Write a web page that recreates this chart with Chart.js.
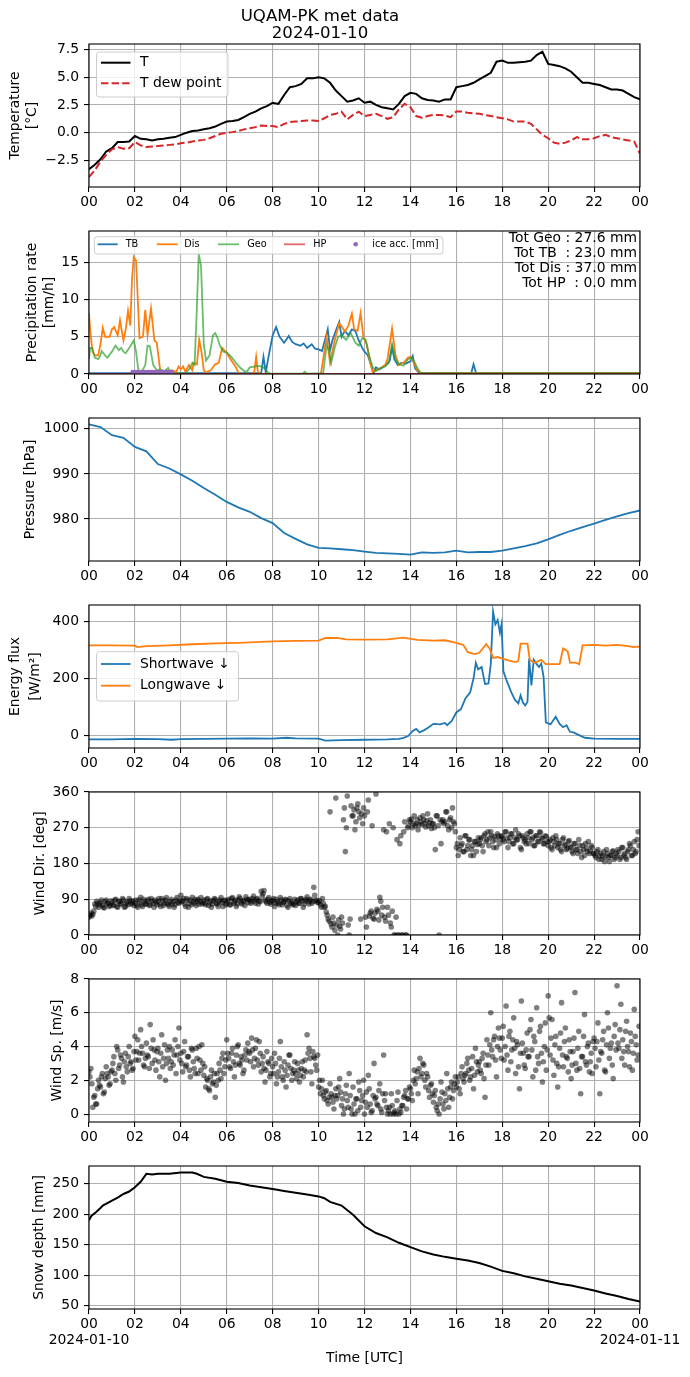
<!DOCTYPE html>
<html>
<head>
<meta charset="utf-8">
<title>UQAM-PK met data</title>
<script src="https://cdn.jsdelivr.net/npm/chart.js@4.4.1/dist/chart.umd.min.js"></script>
<style>
  html, body { margin: 0; padding: 0; background: #fff; }
  #fig { position: relative; width: 690px; height: 1377px; overflow: hidden; }
  #fig canvas { position: absolute; left: 0; }
</style>
</head>
<body>
<div id="fig">
  <canvas id="c-temp"  width="690" height="217" style="top:0px"></canvas>
  <canvas id="c-prec"  width="690" height="187" style="top:217px"></canvas>
  <canvas id="c-pres"  width="690" height="187" style="top:404px"></canvas>
  <canvas id="c-rad"   width="690" height="187" style="top:591px"></canvas>
  <canvas id="c-wdir"  width="690" height="187" style="top:778px"></canvas>
  <canvas id="c-wspd"  width="690" height="187" style="top:965px"></canvas>
  <canvas id="c-snow"  width="690" height="225" style="top:1152px"></canvas>
</div>
<script>
// ---- labels / ticks ----
const figTitle = ['UQAM-PK met data', '2024-01-10'];
const dayLabels = ['2024-01-10', '2024-01-11'];
const hourTicks = [0, 2, 4, 6, 8, 10, 12, 14, 16, 18, 20, 22, 24];
const tempTicks = [-2.5, 0, 2.5, 5, 7.5];
const precTicks = [0, 5, 10, 15];
const presTicks = [980, 990, 1000];
const radTicks = [0, 200, 400];
const wdirTicks = [0, 90, 180, 270, 360];
const wspdTicks = [0, 2, 4, 6, 8];
const snowTicks = [50, 100, 150, 200, 250];
const precTotals = ['Tot Geo : 27.6 mm', 'Tot TB  : 23.0 mm', 'Tot Dis : 37.0 mm', 'Tot HP  : 0.0 mm'];

// ---- temperature (15 min) ----
const hours15 = [
  0, 0.25, 0.5, 0.75, 1, 1.25, 1.5, 1.75, 2, 2.25, 2.5, 2.75, 3, 3.25, 3.5, 3.75,
  4, 4.25, 4.5, 4.75, 5, 5.25, 5.5, 5.75, 6, 6.25, 6.5, 6.75, 7, 7.25, 7.5, 7.75,
  8, 8.25, 8.5, 8.75, 9, 9.25, 9.5, 9.75, 10, 10.25, 10.5, 10.75, 11, 11.25, 11.5, 11.75,
  12, 12.25, 12.5, 12.75, 13, 13.25, 13.5, 13.75, 14, 14.25, 14.5, 14.75, 15, 15.25, 15.5, 15.75,
  16, 16.25, 16.5, 16.75, 17, 17.25, 17.5, 17.75, 18, 18.25, 18.5, 18.75, 19, 19.25, 19.5, 19.75,
  20, 20.25, 20.5, 20.75, 21, 21.25, 21.5, 21.75, 22, 22.25, 22.5, 22.75, 23, 23.25, 23.5, 23.75, 24];
const tempValues = [
  -3.3, -2.9, -2.4, -1.7, -1.4, -0.85, -0.85, -0.8, -0.3, -0.55, -0.6, -0.7, -0.6, -0.55, -0.45, -0.4,
  -0.2, 0.0, 0.15, 0.2, 0.3, 0.4, 0.55, 0.8, 1.0, 1.05, 1.15, 1.4, 1.7, 1.9, 2.2, 2.4,
  2.7, 2.6, 3.4, 4.1, 4.2, 4.4, 4.9, 4.9, 5.0, 4.9, 4.5, 3.8, 3.3, 2.8, 2.9, 3.1,
  2.7, 2.8, 2.5, 2.3, 2.2, 2.1, 2.6, 3.3, 3.6, 3.5, 3.1, 2.95, 2.9, 2.8, 3.0, 3.0,
  4.1, 4.2, 4.3, 4.5, 4.8, 5.1, 5.4, 6.4, 6.5, 6.3, 6.3, 6.35, 6.4, 6.5, 7.0, 7.3,
  6.2, 6.1, 6.0, 5.8, 5.5, 5.0, 4.5, 4.5, 4.4, 4.3, 4.1, 3.9, 3.9, 3.8, 3.5, 3.2, 3.0];
const dewValues = [
  -4.0, -3.4, -2.6, -2.0, -1.5, -1.3, -1.45, -1.4, -0.85, -1.15, -1.3, -1.25, -1.2, -1.15, -1.1, -1.05,
  -0.95, -0.9, -0.8, -0.7, -0.65, -0.5, -0.3, -0.1, 0.0, 0.05, 0.15, 0.3, 0.4, 0.5, 0.65, 0.6,
  0.6, 0.5, 0.8, 0.95, 1.0, 1.05, 1.1, 1.1, 1.05, 1.3, 1.6, 1.7, 1.9, 1.2, 1.6, 1.9,
  1.5, 1.6, 1.7, 1.5, 1.25, 1.4, 2.1, 2.6, 2.3, 1.5, 1.35, 1.5, 1.6, 1.6, 1.55, 1.4,
  1.9, 1.9, 1.8, 1.75, 1.7, 1.6, 1.5, 1.4, 1.3, 1.2, 1.0, 1.0, 1.0, 0.8, 0.3, -0.2,
  -0.5, -0.9, -1.0, -0.9, -0.7, -0.4, -0.6, -0.6, -0.5, -0.3, -0.2, -0.4, -0.5, -0.6, -0.7, -0.8, -1.9];

// ---- precipitation rate [mm/h] ----
const tbHours = [0, 7.5, 7.6, 7.7, 7.8, 8.0, 8.15, 8.3, 8.5, 8.7, 8.85, 9.0, 9.2, 9.35, 9.5, 9.7, 9.85,
  10.0, 10.15, 10.3, 10.4, 10.5, 10.6, 10.75, 10.9, 11.0, 11.15, 11.3, 11.45, 11.6, 11.75, 11.9,
  12.0, 12.15, 12.3, 12.4, 12.5, 12.65, 12.8, 13.0, 13.1, 13.2, 13.3, 13.45, 13.6, 13.8,
  14.0, 14.1, 14.2, 14.35, 14.45, 16.65, 16.75, 16.85, 16.95, 24];
const tbValues = [0.1, 0.1, 2.3, 0.2, 2.0, 5.2, 6.3, 5.0, 4.2, 5.1, 4.3, 4.0, 3.8, 4.1, 3.5, 4.0, 3.4,
  3.3, 3.1, 4.8, 6.0, 3.2, 4.5, 5.8, 7.0, 5.0, 5.8, 5.2, 6.0, 5.8, 4.5, 3.5,
  3.0, 2.5, 1.0, 0.1, 0.9, 0.6, 0.9, 1.4, 1.8, 3.6, 2.0, 1.2, 1.5, 1.4,
  1.7, 2.4, 0.8, 0.2, 0.1, 0.1, 1.3, 0.2, 0.1, 0.1];
const disHours = [0, 0.05, 0.15, 0.25, 0.4, 0.5, 0.6, 0.7, 0.9, 1.0, 1.1, 1.25, 1.35, 1.5, 1.6, 1.7, 1.8, 1.87, 1.95, 2.05,
  2.2, 2.35, 2.45, 2.55, 2.7, 2.85, 2.95, 3.1, 3.2, 3.4, 3.6, 3.8, 3.9, 4.0, 4.1, 4.2, 4.35, 4.5, 4.55, 4.7,
  4.8, 4.9, 5.0, 5.1, 5.3, 5.5, 5.65, 5.8, 6.0, 6.2, 6.4, 6.5, 6.6, 7.1, 7.2, 7.28, 7.36, 7.5, 10.1, 10.2,
  10.35, 10.5, 10.7, 10.9, 11.0, 11.15, 11.3, 11.45, 11.55, 11.7, 11.83, 11.95, 12.1, 12.25, 12.35, 12.5, 12.7, 12.9, 13.0, 13.1,
  13.2, 13.35, 13.5, 13.7, 13.9, 14.0, 14.15, 14.3, 14.45, 24];
const disValues = [8.2, 6.0, 3.0, 2.5, 2.5, 4.0, 6.2, 5.0, 5.0, 6.0, 6.3, 5.2, 7.2, 4.5, 6.0, 8.5, 6.5, 12.5, 15.7, 15.2,
  4.8, 5.0, 8.6, 5.2, 8.8, 4.5, 4.2, 0.5, 0.3, 0.2, 0.5, 0.3, 1.0, 0.6, 1.0, 0.3, 1.2, 0.5, 1.5, 1.3,
  4.6, 3.0, 0.5, 0.2, 0.5, 1.3, 1.5, 3.5, 2.8, 1.8, 0.9, 0.2, 0.0, 0.0, 0.3, 2.3, 0.2, 0.0, 0.0, 2.0,
  5.0, 1.5, 4.5, 6.8, 6.4, 5.7, 6.5, 8.1, 6.0, 5.8, 8.2, 5.0, 4.0, 1.5, 0.3, 0.5, 0.8, 1.2, 2.0, 4.0,
  6.1, 2.5, 1.2, 1.5, 2.2, 2.3, 1.5, 0.5, 0.1, 0.1];
const geoHours = [0, 0.05, 0.15, 0.25, 0.4, 0.5, 0.55, 0.7, 0.8, 1.0, 1.15, 1.3, 1.4, 1.5, 1.6, 1.75, 1.95, 2.05, 2.15, 2.3,
  2.45, 2.55, 2.65, 2.8, 2.95, 3.1, 3.3, 3.45, 3.55, 3.7, 4.2, 4.4, 4.5, 4.6, 4.7, 4.78, 4.88, 5.0, 5.1, 5.25,
  5.4, 5.5, 5.6, 5.7, 5.85, 6.0, 6.2, 6.4, 6.6, 6.8, 6.9, 7.0, 7.2, 7.4, 7.6, 7.8, 7.9, 9.3, 9.4, 9.5,
  10.2, 10.35, 10.45, 10.55, 10.7, 10.85, 11.0, 11.2, 11.4, 11.6, 11.75, 11.9, 12.05, 12.2, 12.35, 12.5, 12.7, 12.9, 13.05, 13.2,
  13.35, 13.5, 13.7, 13.9, 14.05, 14.2, 14.3, 14.45, 24];
const geoValues = [2.0, 3.5, 3.5, 2.2, 2.0, 2.5, 3.1, 2.5, 2.2, 3.0, 3.8, 3.2, 3.5, 3.0, 2.8, 3.5, 4.5, 3.0, 0.5, 0.3,
  1.2, 3.8, 3.7, 1.2, 0.5, 0.6, 0.4, 0.8, 0.2, 0.05, 0.1, 0.8, 1.5, 1.2, 9.0, 16.1, 14.5, 4.0, 1.8, 2.5,
  5.2, 5.5, 4.8, 3.8, 3.0, 2.9, 2.3, 1.5, 0.8, 0.3, 0.4, 0.9, 1.0, 1.1, 0.9, 0.2, 0.05, 0.05, 0.3, 0.05,
  0.1, 3.8, 3.2, 1.5, 3.5, 5.0, 5.2, 4.6, 5.5, 4.2, 3.8, 4.8, 4.6, 2.5, 1.0, 0.4, 0.8, 1.0, 1.5, 4.0,
  2.0, 1.3, 1.1, 2.0, 2.2, 1.5, 0.8, 0.1, 0.1];
const hpHours = [0, 24];
const hpValues = [0, 0];
const iceHours = [1.9, 2.0, 2.1, 2.2, 2.3, 2.4, 2.5, 2.6, 2.7, 2.8, 2.9, 3.0, 3.1, 3.2, 3.3, 3.4, 3.5, 3.6];
const iceValues = [0.25, 0.25, 0.25, 0.25, 0.25, 0.25, 0.25, 0.25, 0.25, 0.25, 0.25, 0.25, 0.25, 0.25, 0.25, 0.25, 0.25, 0.25];

// ---- pressure [hPa] (30 min) ----
const hours30 = [0, 0.5, 1, 1.5, 2, 2.5, 3, 3.5, 4, 4.5, 5, 5.5, 6, 6.5, 7, 7.5, 8, 8.5, 9, 9.5, 10, 10.5, 11, 11.5,
  12, 12.5, 13, 13.5, 14, 14.5, 15, 15.5, 16, 16.5, 17, 17.5, 18, 18.5, 19, 19.5, 20, 20.5, 21, 21.5, 22, 22.5, 23, 23.5, 24];
const presValues = [1001.0, 1000.4, 998.6, 998.0, 996.0, 995.0, 992.2, 991.2, 989.9, 988.5, 986.9, 985.4,
  983.8, 982.6, 981.6, 980.2, 979.1, 976.9, 975.6, 974.4, 973.6, 973.5, 973.3, 973.1,
  972.8, 972.5, 972.4, 972.3, 972.1, 972.6, 972.5, 972.6, 973.0, 972.6, 972.7, 972.7,
  973.0, 973.5, 974.0, 974.6, 975.5, 976.5, 977.4, 978.2, 979.0, 979.8, 980.6, 981.3, 981.9];

// ---- radiation [W/m2] ----
const swHours = [0, 1, 2, 3, 3.6, 4, 5, 6, 7, 8, 8.6, 9, 10, 10.3, 11, 12, 13, 13.5, 13.7, 13.9,
  14.1, 14.25, 14.4, 14.6, 14.8, 15, 15.3, 15.5, 15.6, 15.8, 16, 16.2, 16.4, 16.6, 16.75, 16.85, 16.95, 17.1, 17.25, 17.4,
  17.5, 17.6, 17.7, 17.8, 17.9, 17.97, 18.05, 18.2, 18.4, 18.55, 18.7, 18.8, 18.9, 19.0, 19.1, 19.17, 19.27, 19.37, 19.5, 19.6,
  19.7, 19.8, 19.9, 20.1, 20.2, 20.33, 20.5, 20.65, 20.8, 20.95, 21.1, 21.3, 21.6, 22, 23, 24];
const swValues = [-15, -15, -13, -14, -16, -14, -13, -12, -11, -12, -9, -11, -12, -19, -17, -16, -15, -13, -9, -3,
  15, 22, 10, 18, 28, 40, 38, 43, 35, 50, 80, 92, 130, 150, 200, 255, 232, 240, 180, 182,
  250, 435, 390, 405, 360, 390, 225, 190, 150, 125, 112, 140, 115, 105, 118, 270, 175, 265, 250, 240,
  252, 205, 45, 38, 50, 65, 40, 28, 35, 12, 10, 2, -9, -12, -13, -13];
const lwHours = [0, 1, 2, 2.1, 2.5, 3.5, 4.5, 5.5, 6.5, 7.5, 8, 9, 10, 10.3, 10.8, 11.2, 12, 13, 13.7, 14.3,
  15, 15.5, 16, 16.3, 16.5, 16.8, 17.0, 17.3, 17.45, 17.6, 17.8, 18.3, 18.6, 18.7, 18.8, 19.1, 19.2, 19.4, 19.7, 19.9,
  20.5, 20.65, 20.85, 20.95, 21.2, 21.35, 21.5, 22, 22.5, 23, 23.5, 23.7, 24];
const lwValues = [316, 316, 315, 310, 313, 316, 320, 323, 325, 328, 330, 332, 333, 342, 342, 337, 336, 337, 343, 335,
  333, 334, 325, 318, 292, 285, 290, 320, 305, 272, 275, 262, 257, 262, 322, 322, 265, 255, 265, 250,
  250, 305, 295, 255, 255, 250, 316, 318, 315, 318, 313, 310, 312];

// ---- wind (2.5 min samples, one row per hour) ----
const windMinutes = [
  0, 2.5, 5, 7.5, 10, 12.5, 15, 17.5, 20, 22.5, 25, 27.5, 30, 32.5, 35, 37.5, 40, 42.5, 45, 47.5, 50, 52.5, 55, 57.5,
  60, 62.5, 65, 67.5, 70, 72.5, 75, 77.5, 80, 82.5, 85, 87.5, 90, 92.5, 95, 97.5, 100, 102.5, 105, 107.5, 110, 112.5, 115, 117.5,
  120, 122.5, 125, 127.5, 130, 132.5, 135, 137.5, 140, 142.5, 145, 147.5, 150, 152.5, 155, 157.5, 160, 162.5, 165, 167.5, 170, 172.5, 175, 177.5,
  180, 182.5, 185, 187.5, 190, 192.5, 195, 197.5, 200, 202.5, 205, 207.5, 210, 212.5, 215, 217.5, 220, 222.5, 225, 227.5, 230, 232.5, 235, 237.5,
  240, 242.5, 245, 247.5, 250, 252.5, 255, 257.5, 260, 262.5, 265, 267.5, 270, 272.5, 275, 277.5, 280, 282.5, 285, 287.5, 290, 292.5, 295, 297.5,
  300, 302.5, 305, 307.5, 310, 312.5, 315, 317.5, 320, 322.5, 325, 327.5, 330, 332.5, 335, 337.5, 340, 342.5, 345, 347.5, 350, 352.5, 355, 357.5,
  360, 362.5, 365, 367.5, 370, 372.5, 375, 377.5, 380, 382.5, 385, 387.5, 390, 392.5, 395, 397.5, 400, 402.5, 405, 407.5, 410, 412.5, 415, 417.5,
  420, 422.5, 425, 427.5, 430, 432.5, 435, 437.5, 440, 442.5, 445, 447.5, 450, 452.5, 455, 457.5, 460, 462.5, 465, 467.5, 470, 472.5, 475, 477.5,
  480, 482.5, 485, 487.5, 490, 492.5, 495, 497.5, 500, 502.5, 505, 507.5, 510, 512.5, 515, 517.5, 520, 522.5, 525, 527.5, 530, 532.5, 535, 537.5,
  540, 542.5, 545, 547.5, 550, 552.5, 555, 557.5, 560, 562.5, 565, 567.5, 570, 572.5, 575, 577.5, 580, 582.5, 585, 587.5, 590, 592.5, 595, 597.5,
  600, 602.5, 605, 607.5, 610, 612.5, 615, 617.5, 620, 622.5, 625, 627.5, 630, 632.5, 635, 637.5, 640, 642.5, 645, 647.5, 650, 652.5, 655, 657.5,
  660, 662.5, 665, 667.5, 670, 672.5, 675, 677.5, 680, 682.5, 685, 687.5, 690, 692.5, 695, 697.5, 700, 702.5, 705, 707.5, 710, 712.5, 715, 717.5,
  720, 722.5, 725, 727.5, 730, 732.5, 735, 737.5, 740, 742.5, 745, 747.5, 750, 752.5, 755, 757.5, 760, 762.5, 765, 767.5, 770, 772.5, 775, 777.5,
  780, 782.5, 785, 787.5, 790, 792.5, 795, 797.5, 800, 802.5, 805, 807.5, 810, 812.5, 815, 817.5, 820, 822.5, 825, 827.5, 830, 832.5, 835, 837.5,
  840, 842.5, 845, 847.5, 850, 852.5, 855, 857.5, 860, 862.5, 865, 867.5, 870, 872.5, 875, 877.5, 880, 882.5, 885, 887.5, 890, 892.5, 895, 897.5,
  900, 902.5, 905, 907.5, 910, 912.5, 915, 917.5, 920, 922.5, 925, 927.5, 930, 932.5, 935, 937.5, 940, 942.5, 945, 947.5, 950, 952.5, 955, 957.5,
  960, 962.5, 965, 967.5, 970, 972.5, 975, 977.5, 980, 982.5, 985, 987.5, 990, 992.5, 995, 997.5, 1000, 1002.5, 1005, 1007.5, 1010, 1012.5, 1015, 1017.5,
  1020, 1022.5, 1025, 1027.5, 1030, 1032.5, 1035, 1037.5, 1040, 1042.5, 1045, 1047.5, 1050, 1052.5, 1055, 1057.5, 1060, 1062.5, 1065, 1067.5, 1070, 1072.5, 1075, 1077.5,
  1080, 1082.5, 1085, 1087.5, 1090, 1092.5, 1095, 1097.5, 1100, 1102.5, 1105, 1107.5, 1110, 1112.5, 1115, 1117.5, 1120, 1122.5, 1125, 1127.5, 1130, 1132.5, 1135, 1137.5,
  1140, 1142.5, 1145, 1147.5, 1150, 1152.5, 1155, 1157.5, 1160, 1162.5, 1165, 1167.5, 1170, 1172.5, 1175, 1177.5, 1180, 1182.5, 1185, 1187.5, 1190, 1192.5, 1195, 1197.5,
  1200, 1202.5, 1205, 1207.5, 1210, 1212.5, 1215, 1217.5, 1220, 1222.5, 1225, 1227.5, 1230, 1232.5, 1235, 1237.5, 1240, 1242.5, 1245, 1247.5, 1250, 1252.5, 1255, 1257.5,
  1260, 1262.5, 1265, 1267.5, 1270, 1272.5, 1275, 1277.5, 1280, 1282.5, 1285, 1287.5, 1290, 1292.5, 1295, 1297.5, 1300, 1302.5, 1305, 1307.5, 1310, 1312.5, 1315, 1317.5,
  1320, 1322.5, 1325, 1327.5, 1330, 1332.5, 1335, 1337.5, 1340, 1342.5, 1345, 1347.5, 1350, 1352.5, 1355, 1357.5, 1360, 1362.5, 1365, 1367.5, 1370, 1372.5, 1375, 1377.5,
  1380, 1382.5, 1385, 1387.5, 1390, 1392.5, 1395, 1397.5, 1400, 1402.5, 1405, 1407.5, 1410, 1412.5, 1415, 1417.5, 1420, 1422.5, 1425, 1427.5, 1430, 1432.5, 1435, 1437.5];
const windDirValues = [
  45, 50, 55, 48, 52, 60, 78, 72, 85, 80, 70, 76, 82, 88, 75, 70, 68, 84, 88, 79, 80, 72, 74, 86,
  82, 74, 76, 88, 90, 72, 70, 84, 85, 78, 79, 92, 88, 70, 72, 80, 84, 76, 92, 86, 78, 82, 86, 74,
  80, 88, 74, 70, 88, 82, 95, 76, 72, 90, 84, 78, 78, 86, 90, 74, 76, 92, 86, 80, 70, 88, 82, 76,
  85, 92, 78, 72, 92, 86, 74, 80, 88, 94, 80, 76, 72, 84, 90, 78, 84, 70, 76, 88, 94, 82, 80, 86,
  100, 84, 86, 92, 78, 72, 92, 88, 70, 80, 88, 76, 95, 84, 80, 90, 74, 86, 90, 78, 84, 94, 78, 82,
  88, 80, 76, 90, 92, 74, 82, 86, 70, 78, 86, 92, 90, 80, 78, 72, 84, 88, 94, 82, 72, 86, 88, 76,
  80, 86, 90, 76, 76, 92, 94, 80, 84, 88, 72, 78, 88, 96, 92, 82, 78, 86, 86, 74, 96, 90, 82, 88,
  90, 80, 84, 92, 98, 86, 80, 90, 92, 78, 86, 84, 110, 98, 104, 112, 88, 84, 80, 90, 94, 82, 78, 86,
  86, 92, 72, 80, 90, 84, 80, 76, 94, 88, 76, 82, 84, 90, 88, 74, 70, 86, 92, 80, 82, 76, 78, 90,
  74, 84, 88, 80, 80, 92, 92, 86, 70, 78, 86, 90, 96, 84, 78, 88, 90, 80, 84, 120, 100, 86, 88, 82,
  82, 86, 76, 70, 92, 80, 70, 72, 58, 50, 40, 35, 310, 28, 20, 45, 30, 12, 345, 25, 0, 38, 22, 15,
  45, 30, 290, 320, 210, 270, 350, 25, 0, 40, 325, 300, 300, 315, 265, 285, 320, 330, 310, 295, 40, 305, 280, 320,
  300, 45, 20, 310, 340, 48, 55, 60, 275, 42, 40, 55, 355, 65, 60, 38, 95, 85, 50, 70, 265, 45, 35, 260,
  70, 50, 280, 30, 20, 60, 270, 0, 0, 45, 240, 0, 0, 230, 250, 0, 0, 260, 285, 0, 0, 270, 275, 290,
  285, 292, 270, 280, 300, 275, 280, 290, 265, 278, 295, 285, 278, 300, 290, 280, 272, 288, 305, 275, 282, 290, 268, 280,
  280, 270, 215, 300, 300, 275, 0, 290, 230, 285, 290, 280, 285, 310, 310, 275, 265, 290, 295, 270, 320, 285, 280, 260,
  220, 230, 200, 215, 245, 225, 230, 210, 210, 250, 250, 215, 225, 240, 240, 200, 215, 225, 200, 235, 235, 210, 228, 245,
  230, 240, 245, 225, 210, 250, 255, 235, 240, 260, 225, 245, 260, 250, 235, 220, 248, 240, 220, 255, 250, 230, 242, 248,
  250, 240, 235, 260, 260, 245, 220, 235, 245, 255, 255, 230, 230, 245, 265, 240, 240, 255, 250, 220, 215, 250, 245, 235,
  240, 230, 255, 245, 230, 260, 260, 240, 245, 225, 225, 250, 250, 235, 235, 260, 258, 245, 242, 230, 230, 250, 248, 235,
  225, 235, 240, 220, 215, 245, 235, 225, 250, 240, 220, 230, 230, 215, 210, 240, 245, 225, 228, 215, 218, 235, 238, 222,
  220, 210, 205, 230, 230, 215, 215, 205, 240, 225, 210, 195, 225, 215, 200, 230, 218, 210, 235, 205, 212, 225, 220, 205,
  205, 200, 195, 210, 215, 190, 200, 205, 190, 198, 210, 185, 198, 215, 205, 195, 185, 200, 200, 210, 212, 190, 195, 205,
  200, 215, 210, 190, 195, 220, 220, 200, 205, 195, 190, 210, 215, 230, 225, 200, 200, 215, 235, 205, 210, 240, 260, 225];
const windSpdValues = [
  2.5, 2.2, 2.7, 1.8, 0.4, 1.0, 1.1, 0.6, 0.6, 1.5, 2.0, 1.7, 1.6, 2.2, 2.4, 1.2, 1.3, 2.1, 2.8, 2.4, 2.2, 1.7, 1.8, 2.5,
  2.6, 3.0, 3.4, 2.4, 2.0, 4.0, 3.8, 2.7, 2.9, 3.5, 3.3, 2.2, 1.9, 3.1, 3.6, 2.8, 2.5, 3.4, 4.0, 3.0, 3.1, 2.6, 2.7, 3.7,
  4.6, 3.2, 3.7, 4.4, 3.2, 3.6, 5.0, 4.0, 3.6, 2.9, 2.8, 3.3, 4.2, 3.5, 3.4, 2.7, 5.3, 3.9, 3.0, 4.4, 3.8, 3.2, 2.6, 3.7,
  3.9, 3.1, 2.2, 3.6, 4.7, 2.8, 3.3, 4.1, 2.0, 3.0, 3.8, 3.3, 4.0, 2.7, 3.1, 3.8, 2.9, 3.5, 4.4, 2.4, 3.5, 4.0, 5.1, 3.2,
  3.6, 3.0, 2.5, 3.7, 4.3, 2.8, 2.9, 3.4, 3.4, 2.6, 2.2, 3.9, 3.8, 3.1, 2.7, 2.4, 3.9, 3.3, 2.4, 4.0, 3.2, 2.6, 4.1, 3.0,
  2.3, 2.8, 1.6, 2.1, 2.0, 1.5, 1.4, 2.2, 2.6, 1.8, 1.9, 2.4, 1.0, 1.7, 2.4, 2.0, 3.0, 2.6, 2.1, 3.3, 3.6, 2.4, 2.8, 3.2,
  4.4, 3.6, 3.3, 2.8, 2.7, 3.6, 3.9, 3.1, 2.2, 2.9, 3.5, 4.0, 4.1, 3.0, 2.9, 3.4, 3.2, 2.4, 2.6, 3.5, 3.8, 3.2, 4.2, 3.7,
  3.6, 3.1, 4.5, 3.8, 2.8, 3.3, 3.9, 4.4, 3.2, 2.9, 4.3, 3.6, 2.5, 3.0, 3.4, 2.7, 1.9, 2.6, 3.7, 3.1, 3.0, 2.2, 2.4, 3.3,
  2.8, 2.4, 3.6, 3.0, 1.8, 2.2, 2.5, 3.3, 4.3, 2.8, 2.2, 2.0, 3.1, 2.6, 1.6, 2.3, 2.9, 3.5, 3.5, 2.7, 2.0, 2.4, 2.6, 3.1,
  2.4, 2.1, 3.0, 2.6, 1.9, 2.3, 2.7, 3.1, 2.2, 2.6, 3.2, 2.5, 4.7, 3.6, 3.9, 3.3, 2.5, 1.8, 3.7, 3.4, 3.3, 2.9, 2.6, 3.5,
  1.6, 2.0, 1.2, 1.5, 2.0, 1.1, 0.9, 1.3, 1.4, 0.8, 0.6, 1.0, 1.8, 1.2, 1.0, 0.7, 0.3, 1.1, 1.5, 0.9, 1.1, 1.6, 2.1, 1.3,
  0.5, 0.9, 0.0, 0.3, 1.2, 1.7, 0.8, 0.4, 2.4, 1.1, 0.3, 0.0, 1.6, 0.6, 0.0, 0.9, 0.9, 0.2, 1.9, 1.4, 0.4, 0.8, 1.1, 2.0,
  0.0, 0.7, 1.3, 0.4, 2.3, 1.5, 0.6, 0.1, 0.2, 1.1, 3.0, 0.9, 1.0, 0.6, 0.5, 1.4, 1.8, 0.3, 0.1, 1.2, 3.5, 0.8, 1.2, 0.4,
  0.0, 0.2, 0.4, 0.0, 1.2, 0.5, 0.0, 0.1, 0.2, 0.0, 0.8, 1.3, 0.0, 0.3, 0.1, 0.5, 0.5, 1.0, 1.1, 1.4, 0.3, 0.9, 0.9, 1.6,
  1.5, 1.2, 0.8, 2.0, 2.6, 1.8, 2.1, 2.5, 1.2, 2.7, 3.3, 2.2, 2.4, 3.0, 2.9, 2.0, 1.6, 2.4, 2.2, 1.4, 1.0, 1.7, 1.8, 1.2,
  0.7, 1.1, 1.4, 0.4, 0.2, 0.6, 0.0, 0.9, 1.9, 1.3, 0.6, 0.3, 1.2, 0.8, 2.4, 1.5, 0.4, 1.0, 1.6, 1.9, 0.9, 1.4, 1.8, 2.2,
  1.6, 1.9, 2.2, 1.5, 1.2, 2.4, 2.8, 2.1, 1.9, 2.3, 2.4, 3.0, 3.3, 2.6, 2.0, 2.2, 2.7, 3.4, 1.5, 2.3, 3.9, 3.1, 2.5, 2.9,
  3.1, 2.6, 2.4, 3.3, 3.6, 2.1, 1.0, 2.9, 4.4, 3.5, 2.9, 4.1, 6.0, 3.8, 3.4, 4.4, 4.6, 3.2, 2.2, 4.0, 5.1, 4.5, 3.8, 3.3,
  4.5, 5.2, 3.2, 4.0, 6.4, 3.5, 2.6, 4.6, 4.9, 3.1, 3.8, 4.4, 5.7, 3.9, 2.4, 4.3, 4.1, 2.8, 1.5, 3.6, 6.7, 4.2, 3.6, 2.9,
  2.7, 3.8, 4.8, 3.4, 3.4, 5.0, 5.6, 3.8, 2.2, 4.6, 4.3, 2.6, 6.3, 3.4, 3.0, 4.9, 5.2, 3.6, 1.9, 3.1, 4.0, 5.4, 2.6, 3.8,
  7.0, 5.7, 3.5, 4.5, 5.6, 3.2, 2.3, 4.1, 4.6, 3.0, 1.6, 2.8, 3.9, 4.8, 6.6, 3.5, 2.8, 4.3, 5.1, 3.4, 3.3, 2.5, 4.4, 3.7,
  2.1, 2.9, 3.7, 4.5, 7.2, 3.0, 2.6, 3.9, 4.9, 2.7, 1.2, 3.4, 3.4, 4.6, 5.9, 3.1, 2.9, 4.0, 4.2, 2.5, 3.1, 3.6, 2.4, 4.3,
  4.5, 3.9, 2.8, 4.3, 5.4, 3.2, 1.2, 3.7, 3.6, 4.4, 4.9, 2.6, 2.5, 4.1, 6.0, 5.1, 3.3, 3.9, 4.2, 2.9, 2.1, 4.6, 5.3, 3.8,
  7.6, 4.2, 3.9, 5.0, 6.5, 3.3, 4.4, 3.7, 2.9, 4.9, 5.5, 4.0, 3.7, 2.8, 4.8, 4.3, 2.6, 3.6, 6.2, 4.6, 4.1, 3.2, 3.5, 5.2];

// ---- snow depth [mm] ----
const snowHours = [0, 0.1, 0.3, 0.5, 0.6, 1, 1.25, 1.5, 1.75, 2, 2.25, 2.5, 2.75, 3, 3.5, 4, 4.5, 4.7, 5, 5.5,
  6, 6.5, 7, 7.5, 8, 8.5, 9, 9.5, 10, 10.25, 10.5, 11, 11.5, 12, 12.5, 13, 13.5, 14, 14.5, 15,
  15.5, 16, 16.5, 17, 17.5, 18, 18.5, 19, 19.5, 20, 20.5, 21, 21.5, 22, 22.5, 23, 23.5, 24];
const snowValues = [190, 197, 203, 210, 214, 222, 227, 233, 237, 244, 253, 266, 265, 266, 266, 268, 268, 266, 261, 258,
  253, 251, 247, 244, 241, 238, 235, 232, 229, 226, 220, 214, 199, 180, 169, 162, 153, 146, 139, 134,
  130, 127, 124, 120, 114, 107, 103, 98, 94, 90, 86, 83, 79, 75, 70, 66, 61, 57];

// ---------------------------------------------------------------
Chart.defaults.font.family = '"DejaVu Sans", sans-serif';
Chart.defaults.font.size = 13.9;
Chart.defaults.color = '#000';

const FONT = '"DejaVu Sans", sans-serif';
const pts = (xs, ys) => xs.map((x, i) => ({ x: x, y: ys[i] }));

// frame around the plot area, legend box and corner text
const panelDecor = {
  id: 'panelDecor',
  afterDatasetsDraw(chart, args, opts) {
    const { ctx, chartArea: a } = chart;
    ctx.save();
    ctx.strokeStyle = '#000';
    ctx.lineWidth = 1.1;
    ctx.setLineDash([]);
    ctx.strokeRect(a.left, a.top, a.right - a.left, a.bottom - a.top);
    if (opts.legend) drawLegend(chart, opts.legend);
    if (opts.note) drawNote(chart, opts.note);
    ctx.restore();
  }
};
Chart.register(panelDecor);

function drawLegend(chart, L) {
  const { ctx, chartArea: a } = chart;
  const x0 = a.left + L.box[0], y0 = a.top + L.box[1];
  ctx.beginPath();
  if (ctx.roundRect) ctx.roundRect(x0, y0, L.box[2], L.box[3], 3);
  else ctx.rect(x0, y0, L.box[2], L.box[3]);
  ctx.fillStyle = 'rgba(255,255,255,0.8)';
  ctx.fill();
  ctx.strokeStyle = '#cccccc';
  ctx.lineWidth = 1;
  ctx.stroke();

  ctx.font = L.size + 'px ' + FONT;
  ctx.textBaseline = 'middle';
  ctx.textAlign = 'left';
  L.items.forEach(([di, hx, hw, hy, tx]) => {
    const ds = chart.data.datasets[di];
    const y = a.top + hy;
    if (ds.showLine === false) {
      ctx.beginPath();
      ctx.arc(a.left + hx, y, ds.pointRadius, 0, Math.PI * 2);
      ctx.fillStyle = ds.pointBackgroundColor;
      ctx.fill();
    } else {
      ctx.beginPath();
      ctx.setLineDash(ds.borderDash || []);
      ctx.strokeStyle = ds.borderColor;
      ctx.lineWidth = ds.borderWidth;
      ctx.moveTo(a.left + hx, y);
      ctx.lineTo(a.left + hx + hw, y);
      ctx.stroke();
      ctx.setLineDash([]);
    }
    ctx.fillStyle = '#000';
    ctx.fillText(ds.label, a.left + tx, y);
  });
}

function drawNote(chart, N) {
  const { ctx, chartArea: a } = chart;
  ctx.font = N.size + 'px ' + FONT;
  ctx.fillStyle = '#000';
  ctx.textAlign = 'right';
  ctx.textBaseline = 'middle';
  N.lines.forEach((t, i) => ctx.fillText(t, a.right + N.dx, a.top + N.dy + i * N.step));
}

const gridOpts = { color: '#b0b0b0', lineWidth: 1.1, tickLength: 5, tickColor: '#000', tickWidth: 1.1 };

function xScale(height, withDates) {
  const s = {
    type: 'linear', min: 0, max: 24,
    afterBuildTicks: sc => { sc.ticks = hourTicks.map(v => ({ value: v })); },
    afterFit: sc => { sc.height = height; sc.paddingLeft = 0; sc.paddingRight = 0; },
    ticks: {
      autoSkip: false, maxRotation: 0, minRotation: 0, padding: 1.7, color: '#000',
      font: { size: 13.9, lineHeight: 1.2 },
      callback: v => {
        const lab = String(v % 24).padStart(2, '0');
        if (withDates && v === 0) return [lab, dayLabels[0]];
        if (withDates && v === 24) return [lab, dayLabels[1]];
        return lab;
      }
    },
    grid: gridOpts,
    border: { display: false },
    title: { display: false }
  };
  if (withDates) {
    s.title = { display: true, text: 'Time [UTC]', color: '#000',
      font: { size: 13.9, lineHeight: 1.2 }, padding: { top: 0, bottom: 10.2 } };
  }
  return s;
}

function yScale(min, max, ticks, title, fmt) {
  return {
    type: 'linear', min: min, max: max,
    afterBuildTicks: sc => { sc.ticks = ticks.map(v => ({ value: v })); },
    afterFit: sc => { sc.width = 89; sc.paddingTop = 0; sc.paddingBottom = 0; },
    ticks: { padding: 5, color: '#000', font: { size: 13.9 }, callback: fmt || (v => String(v)) },
    grid: gridOpts,
    border: { display: false },
    title: { display: true, text: title.text, color: '#000',
      font: { size: 13.9, lineHeight: title.lh }, padding: { top: title.pad, bottom: 0 } }
  };
}

function makePanel(id, cfg) {
  return new Chart(document.getElementById(id), {
    type: cfg.type || 'line',
    data: { datasets: cfg.datasets },
    options: {
      responsive: false,
      animation: false,
      events: [],
      layout: { padding: { top: cfg.padTop, right: 50, bottom: 0, left: 0 } },
      elements: { point: { radius: 0 }, line: { tension: 0 } },
      scales: {
        x: xScale(cfg.xHeight, cfg.withDates),
        y: yScale(cfg.y[0], cfg.y[1], cfg.yTicks, cfg.yTitle, cfg.fmt)
      },
      plugins: {
        legend: { display: false },
        tooltip: { enabled: false },
        title: cfg.title || { display: false },
        panelDecor: cfg.decor || {}
      }
    }
  });
}

const fmtMinus = v => (v < 0 ? '\u2212' : '') + Math.abs(v).toFixed(1);
const windHours = windMinutes.map(m => m / 60);

// 1. temperature
makePanel('c-temp', {
  padTop: 0, xHeight: 30, y: [-4.9, 8.0], yTicks: tempTicks, fmt: fmtMinus,
  yTitle: { text: ['Temperature', '[°C]'], lh: 1.23, pad: 7 },
  title: { display: true, text: figTitle, color: '#000',
    font: { size: 16.6, weight: 'normal', lineHeight: 1.0 }, padding: { top: 8.4, bottom: 2.4 } },
  datasets: [
    { label: 'T', data: pts(hours15, tempValues), borderColor: '#000000', borderWidth: 2, order: 2 },
    { label: 'T dew point', data: pts(hours15, dewValues), borderColor: '#d62728', borderWidth: 2,
      borderDash: [7.4, 3.2], order: 1 }
  ],
  decor: { legend: { box: [7.5, 8, 131.5, 45], size: 13.9,
    items: [[0, 12, 29.5, 18.7, 51], [1, 12, 29.5, 39.3, 51]] } }
});

// 2. precipitation
makePanel('c-prec', {
  padTop: 14, xHeight: 30, y: [0, 19.2], yTicks: precTicks,
  yTitle: { text: ['Precipitation rate', '[mm/h]'], lh: 1.23, pad: 23.5 },
  datasets: [
    { label: 'TB', data: pts(tbHours, tbValues), borderColor: '#1f77b4', borderWidth: 1.8, order: 5 },
    { label: 'Dis', data: pts(disHours, disValues), borderColor: '#ff7f0e', borderWidth: 1.8, order: 4 },
    { label: 'Geo', data: pts(geoHours, geoValues), borderColor: 'rgba(44,160,44,0.7)', borderWidth: 1.8, order: 3 },
    { label: 'HP', data: pts(hpHours, hpValues), borderColor: 'rgba(214,39,40,0.7)', borderWidth: 1.8, order: 2 },
    { label: 'ice acc. [mm]', data: pts(iceHours, iceValues), showLine: false, pointRadius: 2.3,
      pointBackgroundColor: '#9467bd', pointBorderWidth: 0, order: 1 }
  ],
  decor: {
    legend: { box: [5.3, 5.7, 348.7, 17.3], size: 9.7,
      items: [[0, 8.7, 20, 13.3, 36.7], [1, 67.7, 21, 13.3, 95.3], [2, 129, 21, 13.3, 158.3],
              [3, 195, 21, 13.3, 224.3], [4, 266.7, 0, 13.3, 283.3]] },
    note: { lines: precTotals, size: 13.9, dx: -3, dy: 7.5, step: 15 }
  }
});

// 3. pressure
makePanel('c-pres', {
  padTop: 14, xHeight: 30, y: [970.7, 1002.4], yTicks: presTicks,
  yTitle: { text: 'Pressure [hPa]', lh: 1.2, pad: 22 },
  datasets: [
    { label: 'Pressure', data: pts(hours30, presValues), borderColor: '#1f77b4', borderWidth: 1.8 }
  ]
});

// 4. radiation
makePanel('c-rad', {
  padTop: 14, xHeight: 30, y: [-45, 458], yTicks: radTicks,
  yTitle: { text: ['Energy flux', '[W/m²]'], lh: 1.45, pad: 5.5 },
  datasets: [
    { label: 'Shortwave \u2193', data: pts(swHours, swValues), borderColor: '#1f77b4', borderWidth: 1.8, order: 2 },
    { label: 'Longwave \u2193', data: pts(lwHours, lwValues), borderColor: '#ff7f0e', borderWidth: 1.8, order: 1 }
  ],
  decor: { legend: { box: [7.5, 46.7, 142, 49.3], size: 13.9,
    items: [[0, 12, 29.5, 59, 51], [1, 12, 29.5, 80.7, 51]] } }
});

// 5. wind direction
makePanel('c-wdir', {
  type: 'scatter', padTop: 14, xHeight: 30, y: [0, 360], yTicks: wdirTicks,
  yTitle: { text: 'Wind Dir. [deg]', lh: 1.2, pad: 32 },
  datasets: [
    { label: 'Wind Dir.', data: pts(windHours, windDirValues),
      pointRadius: 2.8, pointBackgroundColor: 'rgba(0,0,0,0.5)', pointBorderWidth: 0 }
  ]
});

// 6. wind speed
makePanel('c-wspd', {
  type: 'scatter', padTop: 14, xHeight: 30, y: [-0.47, 8.0], yTicks: wspdTicks,
  yTitle: { text: 'Wind Sp. [m/s]', lh: 1.2, pad: 49.3 },
  datasets: [
    { label: 'Wind Sp.', data: pts(windHours, windSpdValues),
      pointRadius: 2.8, pointBackgroundColor: 'rgba(0,0,0,0.5)', pointBorderWidth: 0 }
  ]
});

// 7. snow depth
makePanel('c-snow', {
  padTop: 14, xHeight: 68, withDates: true, y: [44.6, 278.8], yTicks: snowTicks,
  yTitle: { text: 'Snow depth [mm]', lh: 1.2, pad: 31.3 },
  datasets: [
    { label: 'Snow depth', data: pts(snowHours, snowValues), borderColor: '#000000', borderWidth: 2 }
  ]
});
</script>
</body>
</html>
